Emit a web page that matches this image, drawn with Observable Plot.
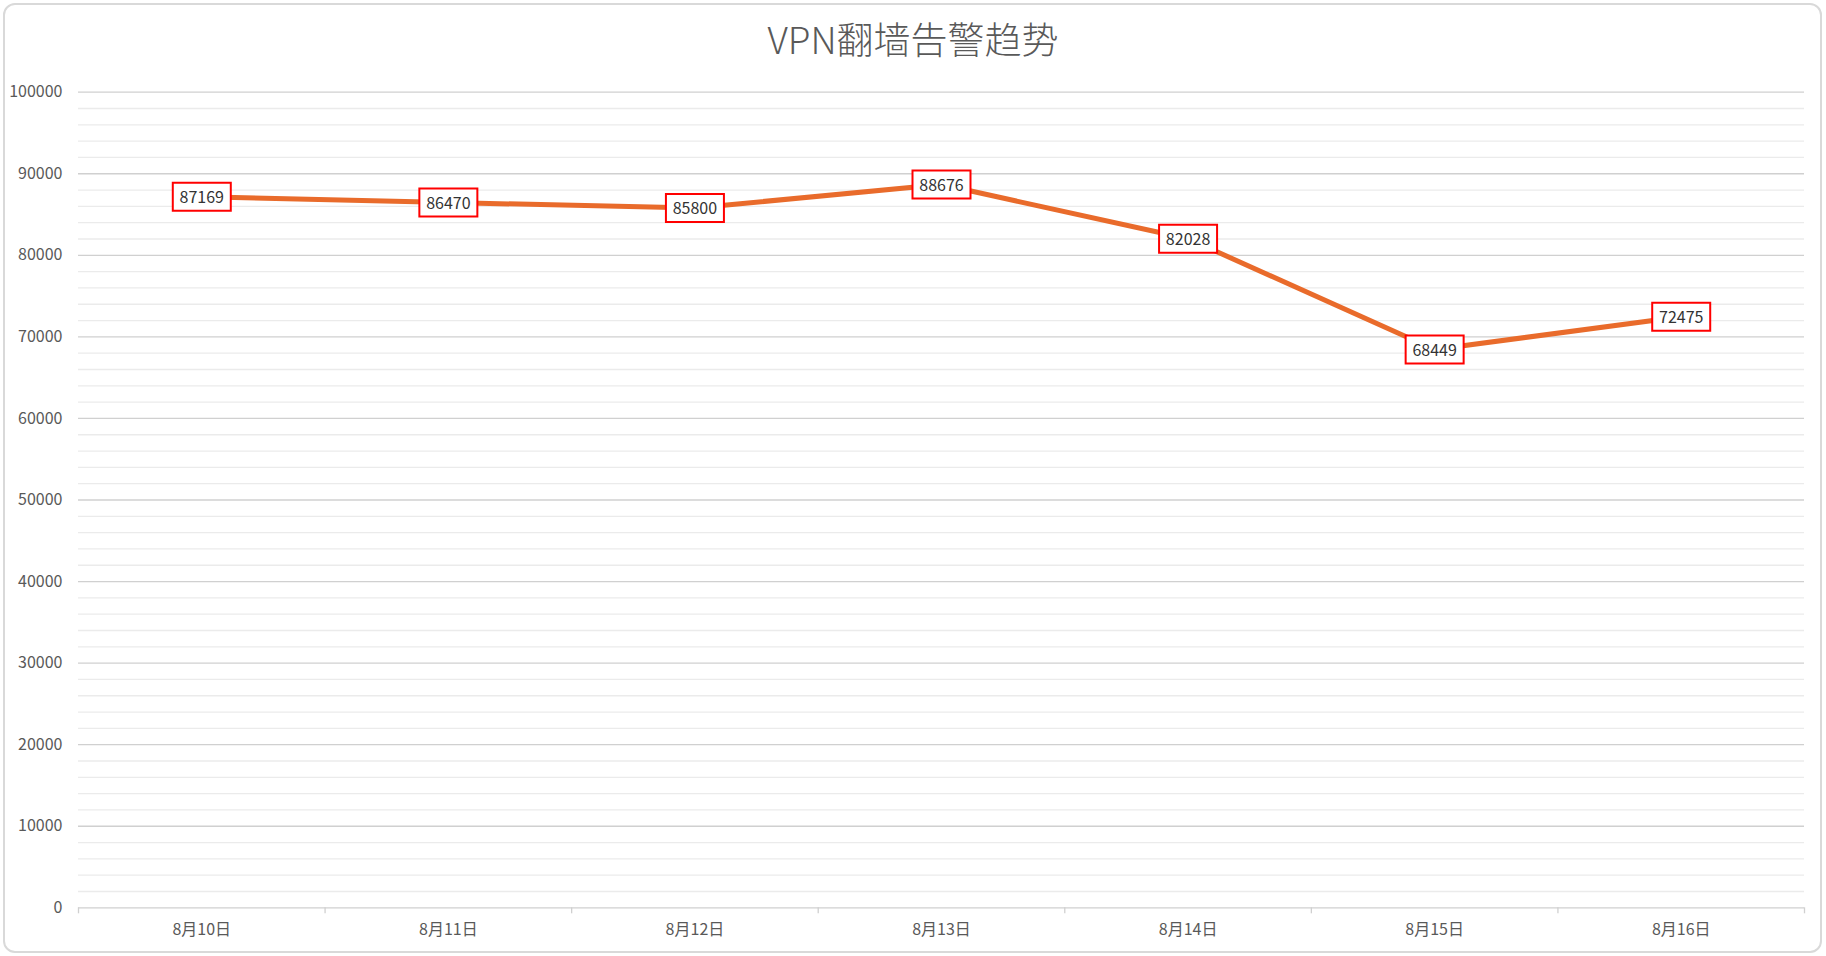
<!DOCTYPE html>
<html>
<head>
<meta charset="utf-8">
<script src="https://cdn.jsdelivr.net/npm/d3@7"></script>
<script src="https://cdn.jsdelivr.net/npm/@observablehq/plot@0.6"></script>
<style>
  html, body { margin: 0; padding: 0; background: #fff; }
  body { width: 1826px; height: 956px; position: relative; overflow: hidden;
         font-family: "Noto Sans CJK SC", "Noto Sans", sans-serif; }
  #title { height: 44px; padding-top: 16px; line-height: 44px; text-align: center;
           font-size: 37px; font-weight: 300; color: #595959; font-family: "Noto Sans CJK SC", sans-serif; }
  #frame { position: absolute; left: 3px; top: 3px; width: 1815px; height: 946px;
           border: 2px solid #d9d9d9; border-radius: 12px; pointer-events: none; }
  #chart svg { display: block; }
</style>
</head>
<body>
<div id="title">VPN翻墙告警趋势</div>
<div id="chart"></div>
<div id="frame"></div>
<script>
const dates = ["8月10日", "8月11日", "8月12日", "8月13日", "8月14日", "8月15日", "8月16日"];
const values = [87169, 86470, 85800, 88676, 82028, 68449, 72475];
const yMajorTicks = [0, 10000, 20000, 30000, 40000, 50000, 60000, 70000, 80000, 90000, 100000];
const yMinorTicks = d3.range(0, 100001, 2000).filter(v => v % 10000 !== 0);
const xBoundaryTicks = d3.range(0, dates.length + 1);
const xLabelTicks = dates.map((d, i) => i + 0.5);

const data = dates.map((d, i) => ({date: d, idx: i + 0.5, value: values[i]}));

const labelBox = {
  draw(context) { context.rect(-29, -14, 58, 28); }
};

const chart = Plot.plot({
  width: 1826,
  height: 896,
  marginTop: 31.7,
  marginBottom: 48.7,
  marginLeft: 78,
  marginRight: 22,
  style: {fontFamily: "'Noto Sans CJK SC', sans-serif", fontSize: "16px", color: "#595959", background: "transparent"},
  x: {domain: [0, dates.length], axis: null, label: null},
  y: {domain: [0, 100000], axis: null, label: null},
  marks: [
    Plot.ruleY(yMinorTicks, {stroke: "#ebebeb", strokeWidth: 1.3}),
    Plot.ruleY(yMajorTicks, {stroke: "#d0d0d0", strokeWidth: 1.3}),
    Plot.axisY({ticks: yMajorTicks, tickSize: 0, tickPadding: 16, label: null, tickFormat: d => String(d), fontSize: 16, fill: "#595959"}),
    Plot.axisX({ticks: xBoundaryTicks, tickSize: 6, label: null, tickFormat: () => "", stroke: "#d0d0d0", strokeWidth: 1.3}),
    Plot.axisX({ticks: xLabelTicks, tickSize: 0, tickPadding: 16, label: null, tickFormat: v => dates[Math.floor(v)], fontSize: 16, fill: "#595959"}),
    Plot.line(data, {x: "idx", y: "value", stroke: "#e96b2b", strokeWidth: 5, strokeLinejoin: "round", strokeLinecap: "round"}),
    Plot.dot(data, {x: "idx", y: "value", symbol: labelBox, r: 10, fill: "#ffffff", stroke: "#ff0000", strokeWidth: 2}),
    Plot.text(data, {x: "idx", y: "value", text: d => String(d.value), fontSize: 16, fill: "#333333", dy: 1})
  ]
});
document.getElementById("chart").appendChild(chart);
</script>
</body>
</html>
